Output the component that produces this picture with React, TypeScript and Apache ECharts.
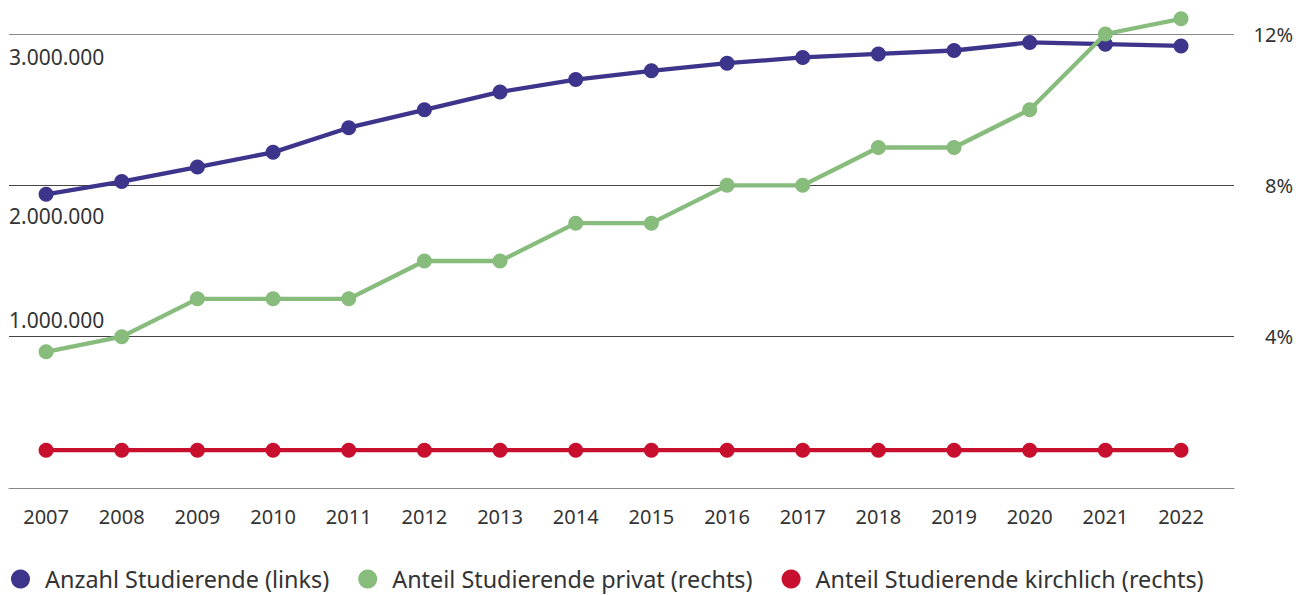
import React, { useEffect, useRef } from "react";
import * as echarts from "echarts";

const years = [2007, 2008, 2009, 2010, 2011, 2012, 2013, 2014, 2015, 2016, 2017, 2018, 2019, 2020, 2021, 2022];
const anzahl = [1941000, 2025000, 2121000, 2218000, 2381000, 2499000, 2617000, 2699000, 2757000, 2807000, 2845000, 2868000, 2891000, 2944000, 2933000, 2921000];
const privat = [3.6, 4.0, 5.0, 5.0, 5.0, 6.0, 6.0, 7.0, 7.0, 8.0, 8.0, 9.0, 9.0, 10.0, 12.0, 12.4];
const kirchlich = [1.0, 1.0, 1.0, 1.0, 1.0, 1.0, 1.0, 1.0, 1.0, 1.0, 1.0, 1.0, 1.0, 1.0, 1.0, 1.0];
const leftTicks = ["", "1.000.000", "2.000.000", "3.000.000"];
const seriesNames = ["Anzahl Studierende (links)", "Anteil Studierende privat (rechts)", "Anteil Studierende kirchlich (rechts)"];
const colors = ["#3d348b", "#87bc7c", "#c8102e"];

const FONT = "'Noto Sans', sans-serif";

export default function App() {
  const ref = useRef<HTMLDivElement>(null);
  useEffect(() => {
    document.body.style.margin = "0";
    if (!ref.current) return;
    const chart = echarts.init(ref.current, null, { renderer: "svg" });
    const mk = (vals: number[]) => vals.map((v, i) => [years[i], v]);
    const lineSeries = (idx: number, yAxisIndex: number, vals: number[]) => ({
      name: seriesNames[idx],
      type: "line",
      yAxisIndex,
      data: mk(vals),
      symbol: "circle",
      symbolSize: 15,
      clip: false,
      lineStyle: { width: 4.3, color: colors[idx] },
      itemStyle: { color: colors[idx] },
      z: 3 + idx,
    });
    chart.setOption({
      animation: false,
      textStyle: { fontFamily: FONT },
      grid: { left: 9, right: 62, top: 34, bottom: 107, containLabel: false },
      legend: {
        left: 6,
        top: 561,
        icon: "circle",
        itemWidth: 19,
        itemHeight: 19,
        itemGap: 29,
        textStyle: { fontFamily: FONT, fontSize: 23.4, lineHeight: 26, color: "#333", padding: [0, 0, 0, 10] },
        data: seriesNames,
      },
      xAxis: {
        type: "value",
        min: 2006.51,
        max: 2022.7,
        axisLine: { show: true, lineStyle: { color: "#888", width: 1.2 } },
        axisTick: { show: false },
        splitLine: { show: false },
        axisLabel: {
          customValues: years,
          formatter: (v: number) => String(v),
          fontSize: 20,
          color: "#333",
          margin: 18,
          fontFamily: FONT,
        },
      },
      yAxis: [
        {
          type: "value",
          min: 0,
          max: 3000000,
          interval: 1000000,
          position: "left",
          axisLine: { show: false },
          axisTick: { show: false },
          splitLine: { show: true, lineStyle: { color: ["#888", "#444", "#444", "#888"], width: 1 } },
          axisLabel: {
            inside: true,
            margin: 0,
            fontSize: 21,
            color: "#333",
            fontFamily: FONT,
            formatter: (v: number) => {
              const i = Math.round(v / 1000000);
              if (i === 3) return "{a|" + leftTicks[3] + "}";
              if (i === 2) return "{b|" + leftTicks[2] + "}";
              if (i === 1) return "{c|" + leftTicks[1] + "}";
              return "";
            },
            rich: {
              a: { fontSize: 21, color: "#333", fontFamily: FONT, padding: [45, 0, 0, 0] },
              b: { fontSize: 21, color: "#333", fontFamily: FONT, padding: [62, 0, 0, 0] },
              c: { fontSize: 21, color: "#333", fontFamily: FONT, padding: [0, 0, 33, 0] },
            },
          },
        },
        {
          type: "value",
          min: 0,
          max: 12,
          interval: 4,
          position: "right",
          axisLine: { show: false },
          axisTick: { show: false },
          splitLine: { show: false },
          axisLabel: {
            fontSize: 20,
            color: "#333",
            fontFamily: FONT,
            align: "right",
            margin: 59,
            formatter: (v: number) => (v === 0 ? "" : v + "%"),
          },
        },
      ],
      series: [lineSeries(0, 0, anzahl), lineSeries(1, 1, privat), lineSeries(2, 1, kirchlich)],
    });
    return () => chart.dispose();
  }, []);
  return <div ref={ref} style={{ width: 1296, height: 595 }} />;
}
